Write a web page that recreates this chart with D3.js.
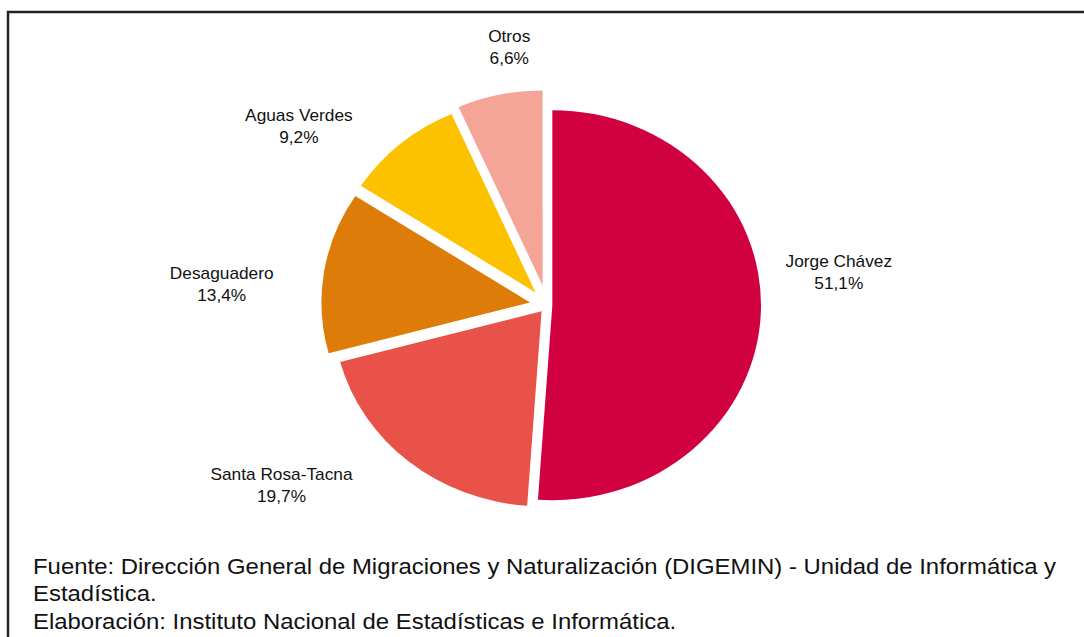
<!DOCTYPE html>
<html><head><meta charset="utf-8">
<script src="https://cdn.jsdelivr.net/npm/d3@7"></script>
<style>html,body{margin:0;padding:0;background:#fff;}svg{display:block;font-family:"Liberation Sans",Arial,sans-serif;}</style>
</head><body>
<svg id="c" width="1084" height="637"></svg>
<script>
const categories = ["Jorge Chávez", "Santa Rosa-Tacna", "Desaguadero", "Aguas Verdes", "Otros"];
const values = [51.1, 19.7, 13.4, 9.2, 6.6];
const valueLabels = ["51,1%", "19,7%", "13,4%", "9,2%", "6,6%"];
const colors = ["#D10040", "#E85248", "#DE7C0A", "#FCC200", "#F4A598"];
const footer = [
  "Fuente: Dirección General de Migraciones y Naturalización (DIGEMIN) - Unidad de Informática y",
  "Estadística.",
  "Elaboración: Instituto Nacional de Estadísticas e Informática."
];

// layout / style
const cx = 547, cy = 305, R = 195, sx = 1.07;
const explode = [5, 8, 16, 16.5, 20];
const labelRx = 300, labelRy = 265;
const labelNudge = [[-8,-41],[-75,-24],[-29,21],[-54,24],[24,2]];

const svg = d3.select("#c");
// frame
svg.append("path").attr("d","M8,640 L8,12 L1090,12").attr("fill","none").attr("stroke","#222").attr("stroke-width",2.5);

const pie = d3.pie().sort(null).value(d=>d)(values);
const arc = d3.arc().innerRadius(0).outerRadius(R);

const g = svg.append("g");
pie.forEach((p,i)=>{
  const mid = (p.startAngle+p.endAngle)/2;
  const ox = Math.sin(mid)*explode[i]*sx, oy = -Math.cos(mid)*explode[i];
  g.append("path")
    .attr("d", arc(p))
    .attr("transform", `translate(${cx+ox},${cy+oy}) scale(${sx},1)`)
    .attr("fill", colors[i]);
  const lx = cx + Math.sin(mid)*labelRx + labelNudge[i][0];
  const ly = cy - Math.cos(mid)*labelRy + labelNudge[i][1];
  const t = svg.append("text").attr("text-anchor","middle").attr("font-size",16)
    .attr("transform",`translate(${lx},${ly}) scale(1.08,1)`).attr("fill","#111");
  t.append("tspan").attr("x",0).attr("y",-11).attr("dominant-baseline","central").text(categories[i]);
  t.append("tspan").attr("x",0).attr("y",11).attr("dominant-baseline","central").text(valueLabels[i]);
});

const ft = svg.append("g").attr("transform","translate(33,0) scale(1.087,1)");
footer.forEach((s,i)=>{
  ft.append("text").attr("x",0).attr("y",574+i*27.5).attr("font-size",22).attr("fill","#111").text(s);
});
</script>
</body></html>
